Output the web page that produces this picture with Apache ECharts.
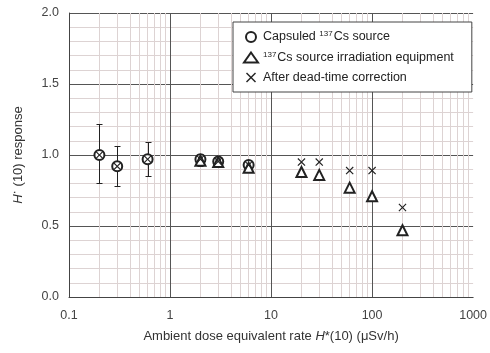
<!DOCTYPE html>
<html>
<head>
<meta charset="utf-8">
<script src="https://cdn.jsdelivr.net/npm/echarts@6/dist/echarts.min.js"></script>
<style>
  html, body { margin: 0; padding: 0; background: #fff; }
  #chart { width: 490px; height: 353px; }
</style>
</head>
<body>
<div id="chart"></div>
<script>
const xTickLabels = ["0.1", "1", "10", "100", "1000"];
const minorGridX = [0.2, 0.3, 0.4, 0.5, 0.6, 0.7, 0.8, 0.9, 2, 3, 4, 5, 6, 7, 8, 9,
  20, 30, 40, 50, 60, 70, 80, 90, 200, 300, 400, 500, 600, 700, 800, 900];
const majorGridX = [1, 10, 100];

const capsuledX = [0.2, 0.3, 0.6, 2, 3, 6];
const capsuledY = [1.0, 0.92, 0.97, 0.97, 0.955, 0.93];
const capsuledLow = [0.80, 0.78, 0.85, 0.92, 0.93, 0.88];
const capsuledHigh = [1.22, 1.065, 1.09, 1.01, 0.98, 0.95];

const equipX = [2, 3, 6, 20, 30, 60, 100, 200];
const equipY = [0.96, 0.95, 0.91, 0.88, 0.86, 0.77, 0.71, 0.47];

const correctedX = [0.2, 0.3, 0.6, 2, 3, 6, 20, 30, 60, 100, 200];
const correctedY = [1.0, 0.92, 0.97, 0.97, 0.955, 0.93, 0.95, 0.95, 0.89, 0.89, 0.63];

const ink = "#222";
const font = "Liberation Sans";
const crossPath = "path://M0,1L1,0L5,4L9,0L10,1L6,5L10,9L9,10L5,6L1,10L0,9L4,5Z";

const chart = echarts.init(document.getElementById("chart"));

chart.setOption({
  animation: false,
  backgroundColor: "#fff",
  textStyle: { fontFamily: font },
  grid: { left: 66, right: 14, top: 13, bottom: 56 },
  legend: {
    orient: "vertical",
    left: 233,
    top: 22,
    z: 30,
    padding: [8, 18, 8, 10],
    itemGap: 7,
    itemWidth: 14,
    itemHeight: 10,
    borderColor: "#444",
    borderWidth: 1,
    backgroundColor: "#fff",
    data: ["capsuled", "equip", "corrected"],
    formatter: function (name) {
      if (name === "capsuled") return "{t|Capsuled }{s|137}{t|Cs source}";
      if (name === "equip") return "{s|137}{t|Cs source irradiation equipment}";
      return "{t|After dead-time correction}";
    },
    textStyle: {
      rich: {
        t: { fontSize: 12.5, color: "#222", fontFamily: font },
        s: { fontSize: 8, color: "#222", fontFamily: font, verticalAlign: "top", padding: [0, 1, 6, 0] }
      }
    }
  },
  xAxis: {
    type: "log",
    logBase: 10,
    min: 0.1,
    max: 1000,
    name: "{n|Ambient dose equivalent rate }{i|H}{n|*(10) (μSv/h)}",
    nameLocation: "middle",
    nameGap: 33,
    nameTextStyle: {
      rich: {
        n: { fontSize: 13, color: "#333", fontFamily: font },
        i: { fontSize: 13, color: "#333", fontFamily: font, fontStyle: "italic" }
      }
    },
    axisLine: { show: true, lineStyle: { color: "#444", width: 1 } },
    axisTick: { show: false },
    axisLabel: {
      color: "#444",
      fontSize: 12.5,
      margin: 12,
      formatter: function (v) {
        const idx = Math.round(Math.log10(v)) + 1;
        return xTickLabels[idx] || "";
      }
    },
    splitLine: { show: false }
  },
  yAxis: {
    type: "value",
    min: 0,
    max: 2,
    interval: 0.5,
    name: "{i|H}{s|·}{n| (10) response}",
    nameLocation: "middle",
    nameGap: 40,
    nameRotate: 90,
    nameTextStyle: {
      rich: {
        n: { fontSize: 13, color: "#333", fontFamily: font },
        i: { fontSize: 13, color: "#333", fontFamily: font, fontStyle: "italic" },
        s: { fontSize: 13, color: "#333", fontFamily: font, padding: [0, 0, 8, 0] }
      }
    },
    axisLine: { show: true, lineStyle: { color: "#444", width: 1 } },
    axisTick: { show: false },
    axisLabel: {
      color: "#444",
      fontSize: 12.5,
      margin: 10,
      formatter: function (v) { return v.toFixed(1); }
    },
    splitLine: { show: true, lineStyle: { color: "#555", width: 1 } },
    minorTick: { show: false, splitNumber: 5 },
    minorSplitLine: { show: true, lineStyle: { color: "#ddd3d3", width: 1 } }
  },
  series: [
    {
      name: "gridX",
      type: "line",
      data: [],
      silent: true,
      z: 1,
      markLine: {
        silent: true,
        symbol: "none",
        label: { show: false },
        animation: false,
        z: 1,
        lineStyle: { color: "#ddd3d3", width: 1, type: "solid" },
        data: minorGridX.map(function (v) { return { xAxis: v }; })
      }
    },
    {
      name: "gridXMajor",
      type: "line",
      data: [],
      silent: true,
      z: 1,
      markLine: {
        silent: true,
        symbol: "none",
        label: { show: false },
        animation: false,
        z: 1,
        lineStyle: { color: "#555", width: 1, type: "solid" },
        data: majorGridX.map(function (v) { return { xAxis: v }; })
      }
    },
    {
      name: "errors",
      type: "custom",
      silent: true,
      z: 10,
      data: capsuledX.map(function (x, i) { return [x, capsuledLow[i], capsuledHigh[i]]; }),
      renderItem: function (params, api) {
        const lo = api.coord([api.value(0), api.value(1)]);
        const hi = api.coord([api.value(0), api.value(2)]);
        const cx = Math.round(lo[0]) + 0.5;
        const yLo = Math.round(lo[1]) + 0.5;
        const yHi = Math.round(hi[1]) + 0.5;
        const cap = 3;
        const style = { stroke: "#222", lineWidth: 1, opacity: 1 };
        return {
          type: "group",
          children: [
            { type: "line", shape: { x1: cx, y1: yLo, x2: cx, y2: yHi }, style: style },
            { type: "line", shape: { x1: cx - cap, y1: yLo, x2: cx + cap, y2: yLo }, style: style },
            { type: "line", shape: { x1: cx - cap, y1: yHi, x2: cx + cap, y2: yHi }, style: style }
          ]
        };
      }
    },
    {
      name: "capsuled",
      type: "scatter",
      symbol: "emptyCircle",
      symbolSize: 10,
      z: 11,
      itemStyle: { color: ink, borderColor: ink, borderWidth: 1.4, opacity: 1 },
      data: capsuledX.map(function (x, i) { return [x, capsuledY[i]]; })
    },
    {
      name: "equip",
      type: "scatter",
      symbol: "emptyTriangle",
      symbolSize: 10,
      z: 11,
      itemStyle: { color: ink, borderColor: ink, borderWidth: 1.4, opacity: 1 },
      data: equipX.map(function (x, i) { return [x, equipY[i]]; })
    },
    {
      name: "corrected",
      type: "scatter",
      symbol: crossPath,
      symbolSize: 8,
      z: 12,
      itemStyle: { color: ink, opacity: 1 },
      data: correctedX.map(function (x, i) { return [x, correctedY[i]]; })
    }
  ]
});
</script>
</body>
</html>
